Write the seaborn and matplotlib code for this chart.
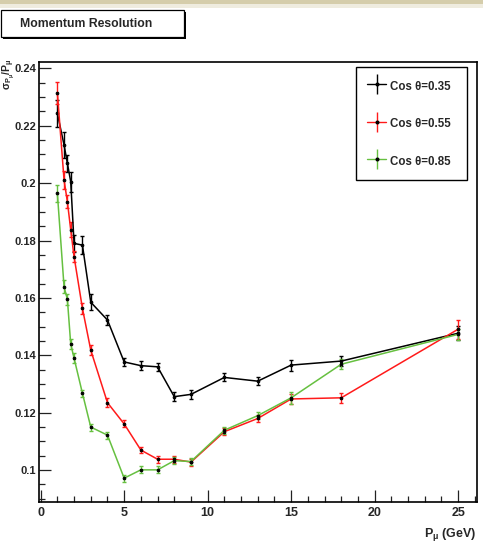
import numpy as np
import pandas as pd
import matplotlib
matplotlib.use('Agg')
import matplotlib.pyplot as plt
import seaborn as sns
from matplotlib.lines import Line2D
from matplotlib.patches import Rectangle
from matplotlib.ticker import MultipleLocator, FuncFormatter

# ---------------- data ----------------
momentum = [1, 1.4, 1.6, 1.8, 2, 2.5, 3, 4, 5, 6, 7, 8, 9, 11, 13, 15, 18, 25]
series_names = ["Cos \u03b8=0.35", "Cos \u03b8=0.55", "Cos \u03b8=0.85"]
res_035 = [0.2243, 0.2133, 0.2069, 0.2005, 0.1790, 0.1784, 0.1585, 0.1523, 0.1377,
           0.1364, 0.1360, 0.1256, 0.1264, 0.1323, 0.1310, 0.1366, 0.1380, 0.1477]
res_055 = [0.2315, 0.2011, 0.1935, 0.1837, 0.1744, 0.1564, 0.1418, 0.1235, 0.1161,
           0.1070, 0.1038, 0.1038, 0.1028, 0.1134, 0.1180, 0.1248, 0.1252, 0.1491]
res_085 = [0.1964, 0.1639, 0.1595, 0.1439, 0.1390, 0.1268, 0.1150, 0.1122, 0.0972,
           0.1001, 0.1001, 0.1033, 0.1030, 0.1139, 0.1190, 0.1252, 0.1369, 0.1473]
err_035 = [0.0047, 0.0044, 0.0030, 0.0035, 0.0030, 0.0032, 0.0028, 0.0019, 0.0015,
           0.0015, 0.0015, 0.0016, 0.0015, 0.0014, 0.0014, 0.0019, 0.0017, 0.0025]
err_055 = [0.0038, 0.0032, 0.0023, 0.0026, 0.0020, 0.0020, 0.0017, 0.0015, 0.0012,
           0.0012, 0.0012, 0.0012, 0.0012, 0.0012, 0.0012, 0.0017, 0.0017, 0.0033]
err_085 = [0.0030, 0.0023, 0.0020, 0.0017, 0.0017, 0.0012, 0.0012, 0.0012, 0.0012,
           0.0012, 0.0012, 0.0012, 0.0012, 0.0012, 0.0012, 0.0020, 0.0017, 0.0020]
colors = ["#000000", "#ff1a1a", "#66c040"]

values = [res_035, res_055, res_085]
errors = [err_035, err_055, err_085]

df = pd.concat([
    pd.DataFrame({"P": momentum, "sigma": v, "err": e, "series": n})
    for v, e, n in zip(values, errors, series_names)
], ignore_index=True)

# ---------------- style ----------------
sns.set_theme(style="white")
FONT = ["Liberation Sans", "DejaVu Sans"]
plt.rcParams["font.family"] = FONT
plt.rcParams["font.weight"] = "bold"
plt.rcParams["mathtext.fontset"] = "custom"
plt.rcParams["mathtext.rm"] = "Liberation Sans:bold"
plt.rcParams["mathtext.it"] = "Liberation Sans:bold"
plt.rcParams["mathtext.bf"] = "Liberation Sans:bold"
plt.rcParams["mathtext.sf"] = "Liberation Sans:bold"
plt.rcParams["mathtext.default"] = "bf"

W, H = 483, 545
fig = plt.figure(figsize=(W / 100, H / 100), dpi=100)
fig.patch.set_facecolor("white")

# top decorative strip
fig.patches.append(Rectangle((0, 1 - 4 / H), 1, 4 / H, transform=fig.transFigure,
                             facecolor="#d5cdab", edgecolor="none", zorder=0))
fig.patches.append(Rectangle((0, 1 - 8 / H), 1, 4 / H, transform=fig.transFigure,
                             facecolor="#efecdf", edgecolor="none", zorder=0))

# axes placement
L, R, T, B = 38.5, 476.5, 62, 502
ax = fig.add_axes([L / W, 1 - B / H, (R - L) / W, (B - T) / H])

palette = dict(zip(series_names, colors))
for name, c in zip(series_names, colors):
    sub = df[df["series"] == name]
    ax.errorbar(sub["P"], sub["sigma"], yerr=sub["err"], fmt="none",
                ecolor=c, elinewidth=1.0, capsize=1.2, capthick=1.0, zorder=2)
sns.lineplot(data=df, x="P", y="sigma", hue="series", palette=palette,
             hue_order=series_names, estimator=None, sort=False, legend=False,
             linewidth=1.1, marker="o", markersize=1.9,
             markerfacecolor="black", markeredgecolor="black", ax=ax, zorder=3)

ax.set_xlim(-0.13, 26.1)
ax.set_ylim(0.0889, 0.2422)
ax.xaxis.set_major_locator(MultipleLocator(5))
ax.xaxis.set_minor_locator(MultipleLocator(1))
ax.yaxis.set_major_locator(MultipleLocator(0.02))
ax.yaxis.set_minor_locator(MultipleLocator(0.005))
ax.yaxis.set_major_formatter(FuncFormatter(lambda v, p: f"{v:g}"))
ax.xaxis.set_major_formatter(FuncFormatter(lambda v, p: f"{v:g}"))

ax.tick_params(axis="both", which="major", direction="in", length=8.6, width=0.9,
               color="#222222", top=False, right=False, bottom=True, left=True)
ax.tick_params(axis="both", which="minor", direction="in", length=4.3, width=0.9,
               color="#222222", top=False, right=False, bottom=True, left=True)
ax.tick_params(axis="y", which="major", pad=1.5, labelsize=8)
ax.tick_params(axis="x", which="major", pad=3.5, labelsize=9)
for lab in ax.get_xticklabels() + ax.get_yticklabels():
    lab.set_fontweight("bold")

for s in ax.spines.values():
    s.set_visible(True)
    s.set_color("black")
    s.set_linewidth(1.2)

ax.set_xlabel("")
ax.set_ylabel("")

# axis titles
fig.text(476 / W, 1 - 537 / H, r"$P_{\mu}$ (GeV)", ha="right", va="baseline",
         fontsize=9, fontweight="bold")
fig.text(0.5 / W, 1 - 58 / H, r"$\sigma_{P_{\mu}}/P_{\mu}$", ha="left", va="top",
         rotation=90, fontsize=7.5, fontweight="bold")

# title box with shadow
bx0, by0, bx1, by1 = 0.5, 10, 184, 37
fig.patches.append(Rectangle(((bx0 + 2) / W, 1 - (by1 + 2) / H), (bx1 - bx0) / W,
                             (by1 - by0) / H, transform=fig.transFigure,
                             facecolor="black", edgecolor="none", zorder=1))
fig.patches.append(Rectangle((bx0 / W, 1 - by1 / H), (bx1 - bx0) / W, (by1 - by0) / H,
                             transform=fig.transFigure, facecolor="white",
                             edgecolor="black", linewidth=0.9, zorder=2))
fig.text(86 / W, 1 - 24 / H, "Momentum Resolution", ha="center",
         va="center", fontsize=8.8, fontweight="bold", zorder=3)

# legend
handles = []
for c in colors:
    cross = Line2D([0], [0], color=c, lw=1.0, marker="|", markersize=14.5,
                   markeredgewidth=1.0, markeredgecolor=c)
    dot = Line2D([0], [0], ls="none", marker="o", markersize=1.9, color="black")
    handles.append((cross, dot))
lx0, ly0, lx1, ly1 = 356, 67, 467, 177
FS = 8.3
px = FS * 100 / 72
leg = ax.legend(handles, series_names, loc="upper left",
                bbox_to_anchor=((lx0 - L) / (R - L), (B - ly1) / (B - T),
                                (lx1 - lx0) / (R - L), (ly1 - ly0) / (B - T)),
                mode="expand", fontsize=FS, frameon=True, fancybox=False,
                edgecolor="black", framealpha=1, borderpad=11 / px,
                labelspacing=22 / px, handlelength=19 / px, handleheight=20 / px,
                handletextpad=4 / px, borderaxespad=0)
leg.get_frame().set_linewidth(1.0)
for t in leg.get_texts():
    t.set_fontweight("bold")

fig.savefig("out.png", dpi=100)
